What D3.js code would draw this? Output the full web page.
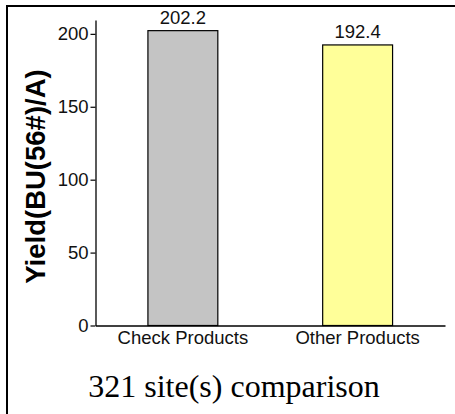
<!DOCTYPE html>
<html>
<head>
<meta charset="utf-8">
<script src="https://cdn.jsdelivr.net/npm/d3@7"></script>
<style>
  body { margin: 0; background: #fff; }
  text { font-family: Arial, "Liberation Sans", sans-serif; }
</style>
</head>
<body>
<svg id="chart" width="455" height="414"></svg>
<script>
// data
const CATEGORIES = ["Check Products", "Other Products"];
const YIELDS = [202.2, 192.4];
const BAR_COLORS = ["#c4c4c4", "#ffff99"];
const Y_TICKS = [0, 50, 100, 150, 200];
const TITLE = "321 site(s) comparison";

const MARGIN = { left: 95.5, right: 10, top: 20, bottom: 88 };
const WIDTH = 445 - MARGIN.left;
const HEIGHT = 325.5 - MARGIN.top;
const FONT = 18.5;

const svg = d3.select('#chart');

// outer frame (right/bottom edges run off the picture)
svg.append('rect')
  .attr('x', 7).attr('y', 6)
  .attr('width', 470).attr('height', 430)
  .attr('fill', 'none')
  .attr('stroke', '#000')
  .attr('stroke-width', 2);

const chart = svg.append('g')
  .attr('transform', `translate(${MARGIN.left},${MARGIN.top})`);

// scales
const xScale = d3.scaleBand().domain(CATEGORIES).range([0, WIDTH]).paddingInner(0.6).paddingOuter(0.3);
const yScale = d3.scaleLinear().domain([0, 209.5]).range([HEIGHT, 0]);

// bars
chart.selectAll('.bar')
  .data(YIELDS)
  .enter()
  .append('rect')
  .attr('x', (d, i) => xScale(CATEGORIES[i]))
  .attr('y', d => yScale(d))
  .attr('width', xScale.bandwidth())
  .attr('height', d => HEIGHT - yScale(d))
  .attr('fill', (d, i) => BAR_COLORS[i])
  .attr('stroke', '#000')
  .attr('stroke-width', 1.2);

// value labels
chart.selectAll('.label')
  .data(YIELDS)
  .enter()
  .append('text')
  .text(d => d.toFixed(1))
  .attr('x', (d, i) => xScale(CATEGORIES[i]) + xScale.bandwidth() / 2)
  .attr('y', d => yScale(d) - 7)
  .attr('text-anchor', 'middle')
  .attr('font-size', FONT + 'px')
  .attr('fill', '#111');

// x axis
const xAxis = chart.append('g')
  .attr('transform', `translate(0,${HEIGHT})`)
  .call(d3.axisBottom(xScale).tickSize(0).tickSizeOuter(0).tickPadding(5.5));
xAxis.select('.domain').attr('stroke', '#000').attr('stroke-width', 1.3);
xAxis.selectAll('text').attr('font-size', FONT + 'px').attr('fill', '#111');

// y axis
const yAxis = chart.append('g')
  .call(d3.axisLeft(yScale).tickValues(Y_TICKS).tickSize(5).tickSizeOuter(0).tickPadding(2));
yAxis.select('.domain').attr('stroke', '#000').attr('stroke-width', 1.3);
yAxis.selectAll('.tick line').attr('stroke', '#000').attr('stroke-width', 1.2);
yAxis.selectAll('text').attr('font-size', FONT + 'px').attr('fill', '#111');

// y title
svg.append('text')
  .attr('transform', `translate(45,176.5) rotate(-90)`)
  .attr('text-anchor', 'middle')
  .attr('font-size', '27.5px')
  .attr('font-weight', 'bold')
  .text('Yield(BU(56#)/A)');

// bottom title
svg.append('text')
  .attr('x', 234)
  .attr('y', 397)
  .attr('text-anchor', 'middle')
  .style('font-family', '"Liberation Serif", "Times New Roman", serif')
  .attr('font-size', '32px')
  .text(TITLE);
</script>
</body>
</html>
